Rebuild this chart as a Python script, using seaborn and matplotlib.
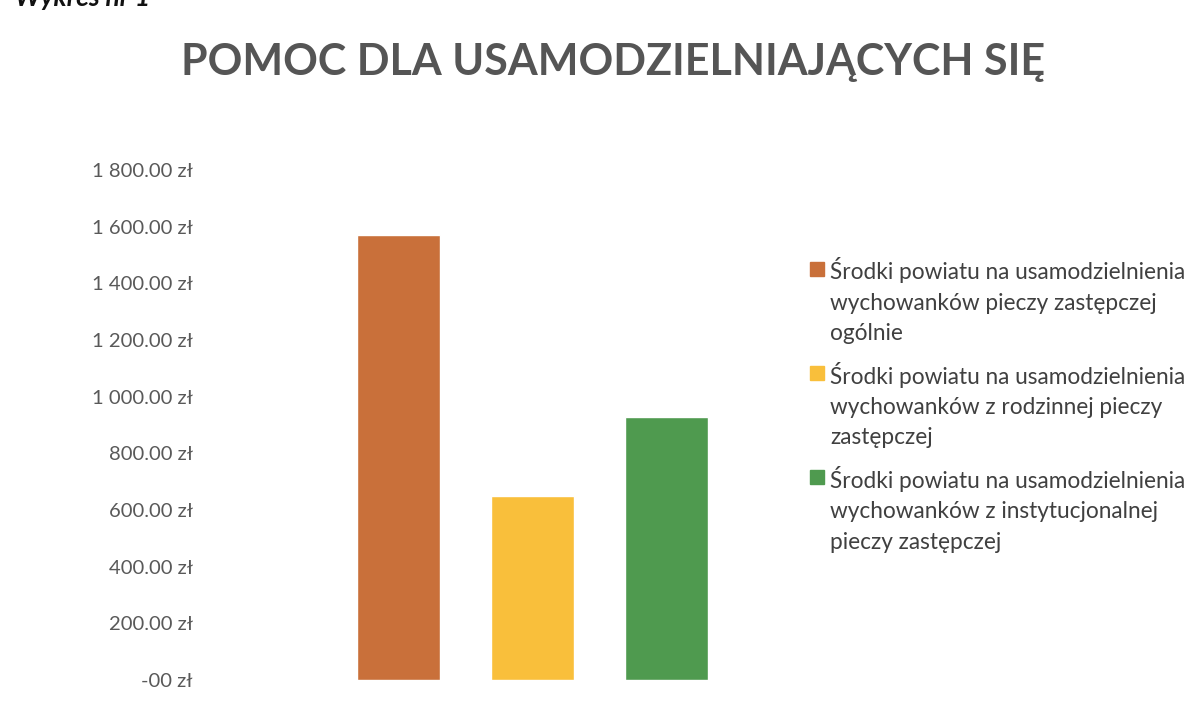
## Pomoc dla usamodzielniających się - bar chart recreation

import matplotlib
matplotlib.use('Agg')
import matplotlib.pyplot as plt
import pandas as pd
import seaborn as sns
from matplotlib.ticker import FuncFormatter
from matplotlib.legend_handler import HandlerPatch


# data
categories = [
    'Środki powiatu na usamodzielnienia\nwychowanków pieczy zastępczej\nogólnie',
    'Środki powiatu na usamodzielnienia\nwychowanków z rodzinnej pieczy\nzastępczej',
    'Środki powiatu na usamodzielnienia\nwychowanków z instytucjonalnej\npieczy zastępczej',
]
amounts = [1570, 649, 928]
bar_colors = ['#C9703A', '#F9BF3B', '#4F9A4F']
y_ticks = [0, 200, 400, 600, 800, 1000, 1200, 1400, 1600, 1800]

df = pd.DataFrame({'kategoria': categories, 'kwota': amounts})

sns.set_theme(style='white')
plt.rcParams['font.family'] = ['Lato', 'DejaVu Sans']

LEG_FS = 16.3
LINESP = 1.55

fig = plt.figure(figsize=(12.02, 7.11), dpi=100)
ax = fig.add_axes([0.166, 0.0436, 0.475, 0.7175])

sns.barplot(data=df, x='kategoria', y='kwota', hue='kategoria',
            palette=bar_colors, width=0.62, saturation=1, ax=ax, legend=False)

ax.set_xlim(-1.49, 2.78)
ax.set_ylim(0, 1800)
ax.set_yticks(y_ticks)


# polish currency format, zero shows as "-00 zł" like in the original
def zl(v, pos):
    if v == 0:
        return '-00 zł'
    return f'{v:,.2f} zł'.replace(',', ' ')


ax.yaxis.set_major_formatter(FuncFormatter(zl))
ax.tick_params(axis='y', labelsize=14.6, labelcolor='#595959', length=0, pad=5)
ax.set_xticks([])
ax.set_xlabel('')
ax.set_ylabel('')
for s in ax.spines.values():
    s.set_visible(False)


# legend square sits next to the first line of a 3-line label (excel style)
def top_square(legend, orig_handle, xdescent, ydescent, width, height, fontsize):
    size = width
    yc = -ydescent + height / 2 + LINESP * fontsize * 0.93
    return plt.Rectangle((-xdescent, yc - size / 2), size, size)


handles = [plt.Rectangle((0, 0), 1, 1, color=c) for c in bar_colors]
leg = fig.legend(handles, categories, loc='upper left',
                 bbox_to_anchor=(0.674, 0.638), frameon=False,
                 fontsize=LEG_FS, handlelength=0.63, handleheight=0.63,
                 handletextpad=0.25, labelspacing=0.78, borderaxespad=0,
                 borderpad=0,
                 handler_map={plt.Rectangle: HandlerPatch(patch_func=top_square)})
for t in leg.get_texts():
    t.set_color('#404040')
    t.set_linespacing(LINESP)

fig.text(0.51, 0.913, 'POMOC DLA USAMODZIELNIAJĄCYCH SIĘ', ha='center',
         va='center', fontsize=31, fontweight='bold', color='#555555')

# half cut label at the very top of the scan
fig.text(0.0125, 1.003, 'Wykres nr 1', ha='left', va='center', fontsize=19,
         fontweight='bold', fontstyle='italic', color='#111111')

fig.savefig('out.png', dpi=100, facecolor='white')
